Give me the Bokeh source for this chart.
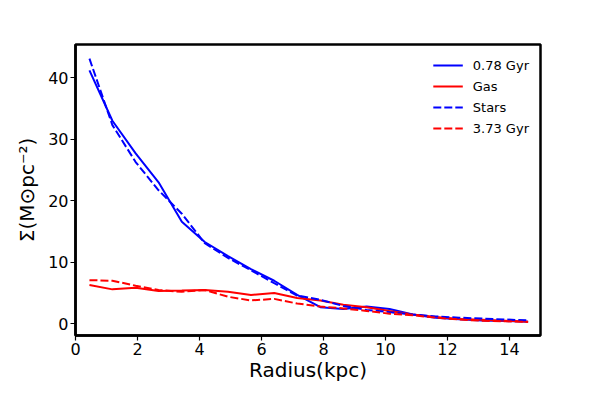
from bokeh.plotting import figure
from bokeh.models import FixedTicker, Range1d, Legend, LegendItem
from bokeh.embed import file_html
from bokeh.resources import INLINE

radius = [0.45, 1.19, 1.94, 2.68, 3.43, 4.17, 4.92, 5.66, 6.41, 7.15,
          7.90, 8.64, 9.39, 10.13, 10.88, 11.62, 12.37, 13.11, 13.86, 14.60]

stars_078 = [41.2, 33.0, 27.7, 23.0, 16.6, 13.3, 11.0, 8.9, 7.0, 4.7,
             2.7, 2.4, 2.8, 2.4, 1.5, 1.0, 0.75, 0.55, 0.45, 0.35]
gas_078 = [6.3, 5.6, 5.85, 5.35, 5.4, 5.5, 5.2, 4.7, 5.0, 4.2,
           3.8, 3.1, 2.7, 2.1, 1.5, 1.1, 0.8, 0.65, 0.5, 0.35]
stars_373 = [43.1, 32.3, 26.3, 21.7, 17.9, 13.1, 10.7, 8.7, 6.6, 4.6,
             3.9, 2.9, 2.25, 1.9, 1.5, 1.2, 1.0, 0.85, 0.7, 0.55]
gas_373 = [7.1, 7.0, 6.2, 5.5, 5.2, 5.5, 4.4, 3.8, 4.05, 3.3,
           2.8, 2.5, 2.1, 1.65, 1.4, 1.0, 0.7, 0.5, 0.4, 0.3]

x_ticks = [0, 2, 4, 6, 8, 10, 12, 14]
y_ticks = [0, 10, 20, 30, 40]

p = figure(width=584, height=384, output_backend="svg", toolbar_location=None,
           x_range=Range1d(0, 15), y_range=Range1d(-1.9, 45.4),
           min_border_left=75, min_border_right=44, min_border_top=44, min_border_bottom=5)

p.xgrid.visible = False
p.ygrid.visible = False
p.background_fill_color = "white"
p.border_fill_color = "white"
p.outline_line_color = "black"
p.outline_line_width = 2.5

for ax in (p.xaxis[0], p.yaxis[0]):
    ax.axis_line_color = "black"
    ax.axis_line_width = 2.5
    ax.major_tick_line_width = 1.2
    ax.major_tick_out = 5
    ax.major_tick_in = 0
    ax.minor_tick_line_color = None
    ax.major_label_text_font = "DejaVu Sans"
    ax.major_label_text_font_size = "16px"
    ax.major_label_text_color = "black"
    ax.major_label_standoff = 2
    ax.axis_label_text_font = "DejaVu Sans"
    ax.axis_label_text_font_size = "20px"
    ax.axis_label_text_font_style = "normal"
    ax.axis_label_text_color = "black"
    ax.axis_label_standoff = 0

p.yaxis[0].axis_label_standoff = 6
p.xaxis.ticker = FixedTicker(ticks=x_ticks)
p.yaxis.ticker = FixedTicker(ticks=y_ticks)
p.xaxis.axis_label = "Radius(kpc)"
p.yaxis.axis_label = "Σ(M⊙pc⁻²)"

r1 = p.line(radius, stars_078, line_color="#0000ff", line_width=2)
r2 = p.line(radius, gas_078, line_color="#ff0000", line_width=2)
r3 = p.line(radius, stars_373, line_color="#0000ff", line_width=2, line_dash="8 3")
r4 = p.line(radius, gas_373, line_color="#ff0000", line_width=2, line_dash="8 3")

legend = Legend(items=[
    LegendItem(label="0.78 Gyr", renderers=[r1]),
    LegendItem(label="Gas", renderers=[r2]),
    LegendItem(label="Stars", renderers=[r3]),
    LegendItem(label="3.73 Gyr", renderers=[r4]),
], location="top_right")
legend.border_line_color = None
legend.background_fill_alpha = 0
legend.label_text_font = "DejaVu Sans"
legend.label_text_font_size = "13px"
legend.label_text_color = "black"
legend.glyph_width = 30
legend.glyph_height = 20
legend.label_height = 20
legend.spacing = 1
legend.padding = 0
legend.margin = 11
legend.label_standoff = 10
p.add_layout(legend)

open("out.html", "w").write(file_html(p, INLINE))
